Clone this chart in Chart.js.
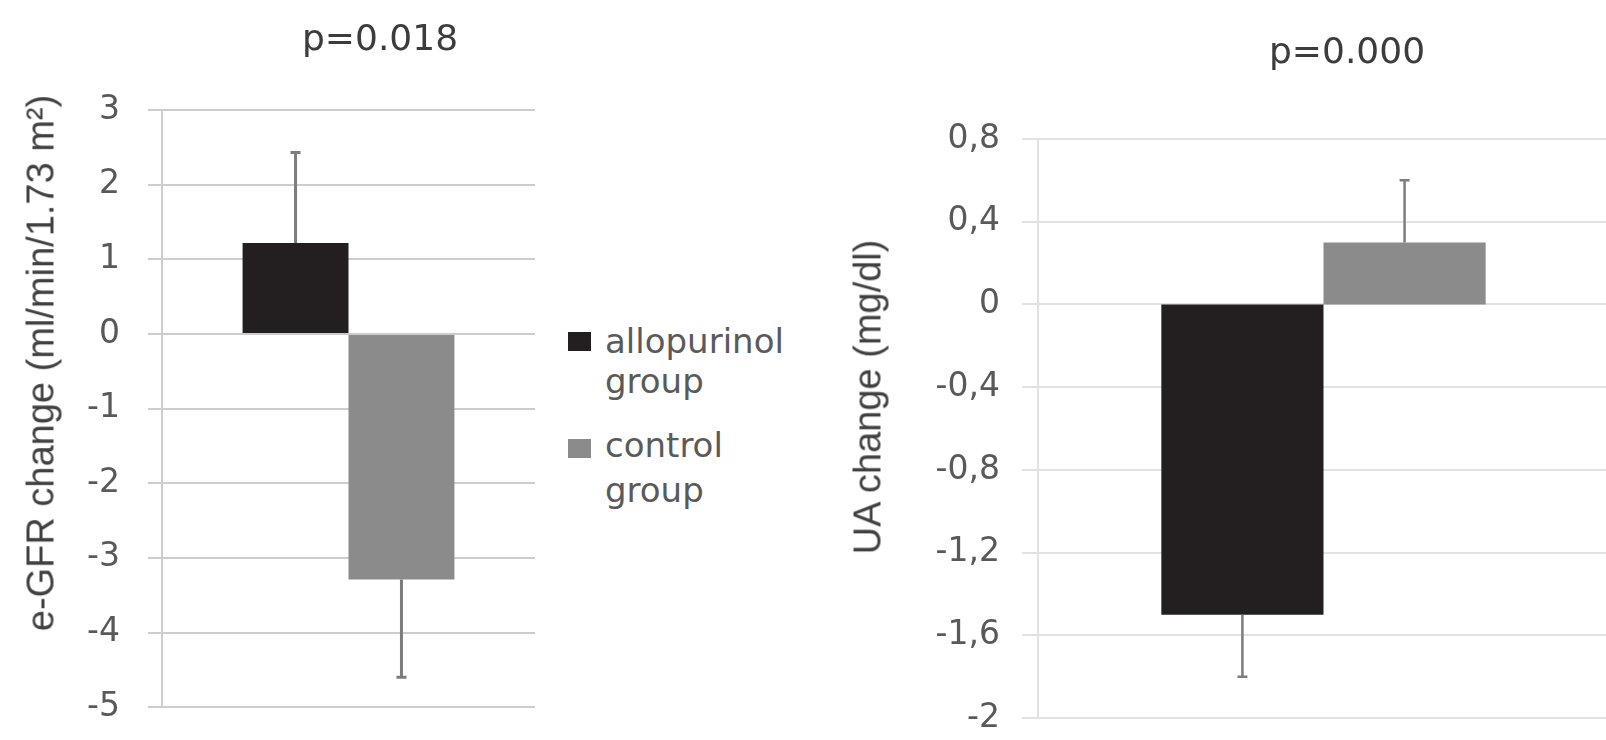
<!DOCTYPE html>
<html>
<head>
<meta charset="utf-8">
<script src="https://cdn.jsdelivr.net/npm/chart.js@4/dist/chart.umd.min.js"></script>
<style>
    body { margin: 0; width: 1606px; height: 740px; overflow: hidden; background: #fff; position: relative; }
    .panel { position: absolute; top: 0; }
    .ptitle { position: absolute; transform: translate(-50%, -50%); font: 36px 'DejaVu Sans'; color: #3c3c3c; white-space: nowrap; }
    .ytitle { position: absolute; transform: translate(-50%, -50%) rotate(-90deg); font: 38px 'Liberation Sans'; color: #404040; white-space: nowrap; }
    .lg-box { position: absolute; width: 23px; height: 19px; }
    .lg-text { position: absolute; font: 34px 'DejaVu Sans'; color: #5a5a5a; }
</style>
</head>
<body>
<!-- canvases run a bit past the bottom edge: the lowest tick label is clipped like in the original -->
<canvas id="egfrChart" class="panel" style="left:0" width="560" height="755"></canvas>
<canvas id="uaChart" class="panel" style="left:820px" width="800" height="760"></canvas>

<div class="ptitle" style="left:380px; top:37px">p=0.018</div>
<div class="ptitle" style="left:1347px; top:50px">p=0.000</div>
<div class="ytitle" style="left:41px; top:363px">e-GFR change (ml/min/1.73 m²)</div>
<div class="ytitle" style="left:868px; top:397px">UA change (mg/dl)</div>

<div id="legend"></div>

<script>
'use strict';

// one unnamed category, two groups
const categories = [''];
const groups = ['allopurinol group', 'control group'];
const groupColors = ['#231f20', '#8b8b8b'];

// e-GFR change (ml/min/1.73 m2)
const egfrMeans = [1.22, -3.29];
const egfrErrors = [1.21, 1.31];
const egfrTicks = ['-5', '-4', '-3', '-2', '-1', '0', '1', '2', '3'];

// UA change (mg/dl)
const uaMeans = [-1.5, 0.3];
const uaErrors = [0.3, 0.3];
const uaTicks = ['-2', '-1,6', '-1,2', '-0,8', '-0,4', '0', '0,4', '0,8'];

Chart.defaults.font.family = 'DejaVu Sans';

// one-sided error bars (away from zero), like the Excel "plus" style
const errorBars = {
    id: 'errorBars',
    afterDatasetsDraw(chart, args, opts) {
        const ctx = chart.ctx;
        const y = chart.scales.y;
        ctx.save();
        ctx.strokeStyle = opts.color;
        ctx.lineWidth = opts.width;
        chart.data.datasets.forEach((ds, di) => {
            chart.getDatasetMeta(di).data.forEach((bar, i) => {
                const v = ds.data[i];
                const end = v + Math.sign(v) * ds.errors[i];
                const y0 = y.getPixelForValue(v);
                const y1 = y.getPixelForValue(end);
                ctx.beginPath();
                ctx.moveTo(bar.x, y0);
                ctx.lineTo(bar.x, y1);
                ctx.moveTo(bar.x - opts.cap, y1);
                ctx.lineTo(bar.x + opts.cap, y1);
                ctx.stroke();
            });
        });
        ctx.restore();
    }
};

function makeChart(id, means, errors, ticks, range, geom) {
    const datasets = groups.map((g, i) => ({
        label: g,
        data: [means[i]],
        errors: [errors[i]],
        backgroundColor: groupColors[i],
        categoryPercentage: 0.568,
        barPercentage: 1
    }));

    return new Chart(document.getElementById(id), {
        type: 'bar',
        data: { labels: categories, datasets: datasets },
        options: {
            responsive: false,
            animation: false,
            // bottom space comes from the tick label padding
            layout: { padding: { left: 0, top: geom.top, right: geom.right, bottom: 0 } },
            plugins: {
                legend: { display: false },
                tooltip: { enabled: false },
                errorBars: { color: '#7d7d7d', width: geom.errWidth, cap: 5 }
            },
            scales: {
                x: { display: false },
                y: {
                    min: range[0],
                    max: range[1],
                    afterFit: (scale) => { scale.width = geom.axisX; },
                    ticks: {
                        stepSize: range[2],
                        color: '#595959',
                        font: { size: 33 },
                        padding: geom.tickPad,
                        callback: (value, index) => ticks[index]
                    },
                    grid: { color: geom.gridColor, lineWidth: 2, tickLength: geom.tickLen },
                    border: { display: true, color: geom.gridColor, width: 2 }
                }
            }
        },
        plugins: [errorBars]
    });
}

makeChart('egfrChart', egfrMeans, egfrErrors, egfrTicks, [-5, 3, 1],
    { top: 110, right: 25, axisX: 162, tickPad: 28, tickLen: 14, gridColor: '#cdcdcd', errWidth: 3 });

makeChart('uaChart', uaMeans, uaErrors, uaTicks, [-2, 0.8, 0.4],
    { top: 139, right: 11, axisX: 218, tickPad: 22, tickLen: 16, gridColor: '#e2e2e2', errWidth: 2.5 });

// legend, with wrapped labels as in the original
const legend = document.getElementById('legend');
const legendRows = [
    { box: 332, text: 321, lh: 40 },
    { box: 439, text: 423, lh: 45 }
];
groups.forEach((g, i) => {
    const row = legendRows[i];
    const words = g.split(' ');
    legend.insertAdjacentHTML('beforeend',
        `<div class="lg-box" style="left:568px; top:${row.box}px; background:${groupColors[i]}"></div>` +
        `<div class="lg-text" style="left:605px; top:${row.text}px; line-height:${row.lh}px">${words[0]}<br>${words[1]}</div>`);
});
</script>
</body>
</html>
